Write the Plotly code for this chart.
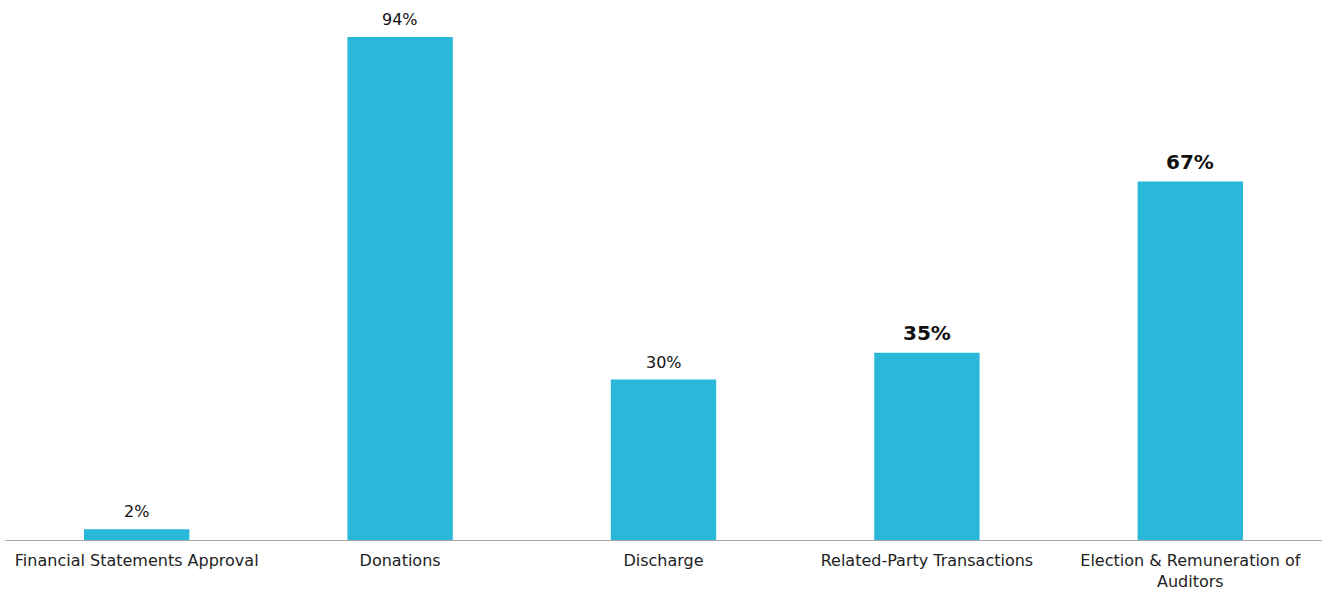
import plotly.graph_objects as go

categories = [
    "Financial Statements Approval",
    "Donations",
    "Discharge",
    "Related-Party Transactions",
    "Election & Remuneration of<br>Auditors",
]
values = [2, 94, 30, 35, 67]
highlight = [False, False, False, True, True]

fig = go.Figure(
    go.Bar(
        x=categories,
        y=values,
        marker=dict(color="#29B8D9", line=dict(width=0)),
        hoverinfo="skip",
    )
)

# Percentage labels above each bar; highlighted ones are bold and larger
for cat, v, h in zip(categories, values, highlight):
    fig.add_annotation(
        x=cat,
        y=v,
        text=f"<b>{v}%</b>" if h else f"{v}%",
        showarrow=False,
        yanchor="bottom",
        yshift=6,
        font=dict(family="DejaVu Sans", size=20 if h else 16, color="#111111"),
    )

fig.update_layout(
    width=1328,
    height=590,
    margin=dict(l=5, r=6, t=5, b=50, autoexpand=False),
    paper_bgcolor="white",
    plot_bgcolor="white",
    bargap=0.6,
    showlegend=False,
    font=dict(family="DejaVu Sans", size=16, color="#222222"),
    xaxis=dict(
        showline=True,
        linecolor="#A6A6A6",
        linewidth=1,
        ticks="",
        showgrid=False,
        automargin=False,
        tickfont=dict(size=16, color="#222222"),
        ticklabelstandoff=6,
    ),
    yaxis=dict(
        range=[0, 100],
        visible=False,
        showgrid=False,
        zeroline=False,
    ),
)

fig.write_html("out.html")
